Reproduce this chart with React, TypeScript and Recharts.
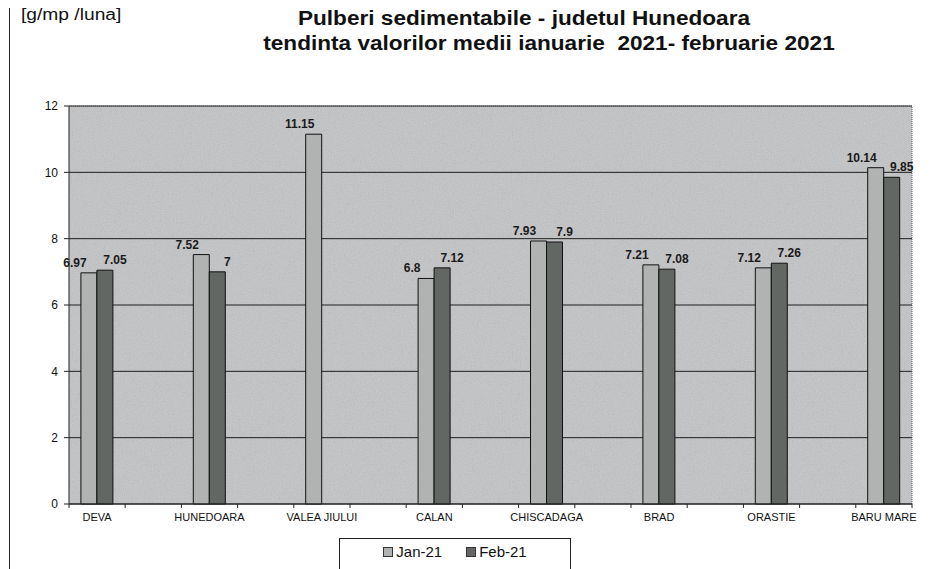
import { BarChart, Bar, XAxis, YAxis, CartesianGrid, LabelList, ReferenceLine } from "recharts"

const categories = ["DEVA", "HUNEDOARA", "VALEA JIULUI", "CALAN", "CHISCADAGA", "BRAD", "ORASTIE", "BARU MARE"]
const jan21 = [6.97, 7.52, 11.15, 6.8, 7.93, 7.21, 7.12, 10.14]
const feb21: (number | null)[] = [7.05, 7, null, 7.12, 7.9, 7.08, 7.26, 9.85]
const yTicks = [0, 2, 4, 6, 8, 10, 12]
const seriesNames = ["Jan-21", "Feb-21"]

const FONT = "'Liberation Sans', Arial, sans-serif"
const JAN_FILL = "#b1b3b3"
const FEB_FILL = "#626763"

const data = categories.map((name, i) => ({ idx: i, name, jan: jan21[i], feb: feb21[i] }))

// tick marks sit between categories, labels sit on them
const xTicks: number[] = []
categories.forEach((_, i) => {
  xTicks.push(i - 0.25, i, i + 0.25)
})

function XTick(props: any) {
  const { x, y, payload } = props
  const v = payload.value
  if (Number.isInteger(v)) {
    return (
      <text x={x} y={y + 17} textAnchor="middle" fontSize={11} fontFamily={FONT} fill="#111">
        {categories[v]}
      </text>
    )
  }
  return <line x1={x} x2={x} y1={y} y2={y + 4} stroke="#222" strokeWidth={1} />
}

function makeLabel(dx: number) {
  return (props: any) => {
    const { x, y, width, value } = props
    if (value == null) return null
    return (
      <text
        x={x + width / 2 + dx}
        y={y - 6}
        textAnchor="middle"
        fontSize={12}
        fontWeight="bold"
        fontFamily={FONT}
        fill="#1a1a1a"
      >
        {value}
      </text>
    )
  }
}

const titleStyle: any = {
  position: "absolute",
  left: 0,
  textAlign: "center",
  fontSize: 20,
  fontWeight: "bold",
  color: "#111",
  whiteSpace: "pre",
  transform: "scaleX(1.13)",
}

export default function App() {
  return (
    <div style={{ position: "relative", width: 933, height: 561, fontFamily: FONT, background: "#fff" }}>
      <div style={{ position: "absolute", left: 13, top: -2, fontSize: 16, color: "#111", transform: "scaleX(1.2)", transformOrigin: "left" }}>
        [g/mp /luna]
      </div>
      <div style={{ ...titleStyle, width: 1032, top: -1, transformOrigin: "516px 0" }}>
        Pulberi sedimentabile - judetul Hunedoara
      </div>
      <div style={{ ...titleStyle, width: 1082, top: 24, transformOrigin: "541px 0" }}>
        {"tendinta valorilor medii ianuarie  2021- februarie 2021"}
      </div>

      <BarChart
        width={933}
        height={561}
        data={data}
        margin={{ top: 98, right: 29, left: 21, bottom: 35 }}
        barGap={0}
        style={{ position: "absolute", left: 0, top: 0 }}
      >
        <defs>
          <filter id="grain" x="0" y="0" width="100%" height="100%">
            <feTurbulence type="fractalNoise" baseFrequency="0.9" numOctaves={2} seed={3} />
            <feColorMatrix type="saturate" values="0" />
          </filter>
          <pattern id="plotBg" width={220} height={220} patternUnits="userSpaceOnUse">
            <rect width={220} height={220} fill="#c3c4c6" />
            <rect width={220} height={220} filter="url(#grain)" opacity={0.3} />
          </pattern>
        </defs>
        <CartesianGrid vertical={false} stroke="#1e1e1e" strokeWidth={1} fill="url(#plotBg)" fillOpacity={1} />
        <XAxis
          type="number"
          dataKey="idx"
          domain={[-0.25, 7.25]}
          ticks={xTicks}
          interval={0}
          tick={<XTick />}
          tickLine={false}
          tickSize={0}
          tickMargin={0}
          axisLine={{ stroke: "#222" }}
          height={30}
        />
        <YAxis
          domain={[0, 12]}
          ticks={yTicks}
          interval={0}
          width={40}
          tickSize={5}
          tickMargin={6}
          tickLine={{ stroke: "#222" }}
          axisLine={{ stroke: "#222" }}
          tick={{ fontSize: 12, fill: "#111", fontFamily: FONT }}
        />
        <ReferenceLine x={7.25} stroke="#555" strokeDasharray="1 1" />
        <ReferenceLine y={12} stroke="#555" strokeDasharray="1 1" />
        <Bar dataKey="jan" name={seriesNames[0]} fill={JAN_FILL} stroke="#111" strokeWidth={1} barSize={16} isAnimationActive={false}>
          <LabelList dataKey="jan" content={makeLabel(-14)} />
        </Bar>
        <Bar dataKey="feb" name={seriesNames[1]} fill={FEB_FILL} stroke="#111" strokeWidth={1} barSize={16} isAnimationActive={false}>
          <LabelList dataKey="feb" content={makeLabel(10)} />
        </Bar>
      </BarChart>

      <div
        style={{
          position: "absolute",
          left: 331,
          top: 530,
          width: 232,
          height: 31,
          border: "1px solid #222",
          borderBottom: "none",
          boxSizing: "border-box",
          display: "flex",
          alignItems: "flex-start",
          justifyContent: "center",
          gap: 24,
          paddingTop: 4,
          fontSize: 15,
          color: "#111",
        }}
      >
        {seriesNames.map((n, i) => (
          <span key={n} style={{ display: "flex", alignItems: "center" }}>
            <span
              style={{
                display: "inline-block",
                width: 8,
                height: 8,
                marginRight: 3,
                border: "1px solid #333",
                background: i === 0 ? JAN_FILL : FEB_FILL,
              }}
            />
            {n}
          </span>
        ))}
      </div>

      {/* frame of the scanned page: top and left edges only */}
      <div style={{ position: "absolute", left: 1, top: -2, width: 932, height: 2, background: "#333", zIndex: 5 }} />
      <div style={{ position: "absolute", left: 1, top: -2, width: 1, height: 563, background: "#222", zIndex: 5 }} />
    </div>
  )
}
